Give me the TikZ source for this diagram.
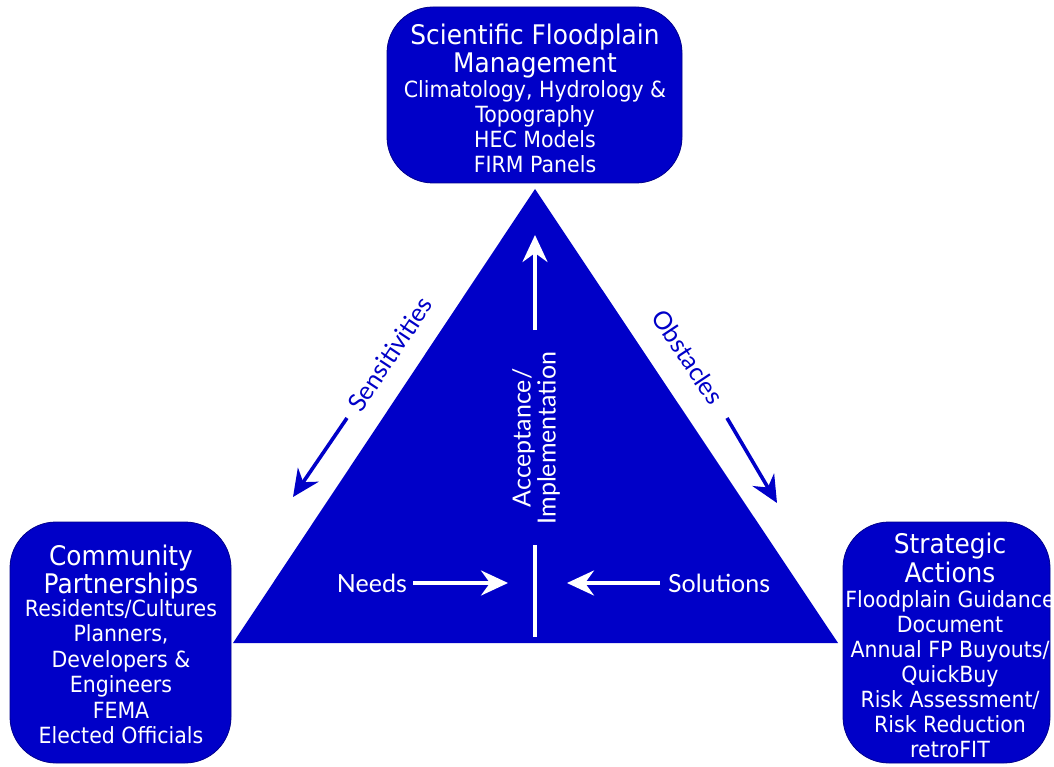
\documentclass[tikz,border=0pt]{standalone}
\usepackage{fontspec}
\setmainfont{DejaVu Sans}[FakeStretch=0.92]
\newfontfamily\trifont{Lato}
\usetikzlibrary{arrows.meta}
\definecolor{fpblue}{RGB}{0,0,200}
\definecolor{fpedge}{RGB}{0,0,140}

% one centred line of box text at a given size
\newcommand\txtrow[2]{\hbox to 0pt{\hss\fontsize{#1}{#1}\selectfont #2\hss}}
\newcommand\titlesize{27}
\newcommand\subsize{22.3}

\begin{document}
\begin{tikzpicture}[x=1pt,y=-1pt,
  infobox/.style={fill=fpblue, draw=fpedge, line width=0.8pt, rounded corners=46pt},
  boxtext/.style={anchor=base, inner sep=0pt, text=white},
  trilabel/.style={inner sep=0pt, font=\trifont\fontsize{25}{25}\selectfont},
  whitearrow/.style={draw=white, line width=3.6pt, -{Stealth[length=27pt,width=25pt,inset=9pt]}},
  bluearrow/.style={draw=fpblue, line width=3.6pt, -{Stealth[length=27pt,width=25pt,inset=9pt]}},
]
\fill[white] (0,0) rectangle (1054,767);
\useasboundingbox (0,0) rectangle (1054,767);

% central triangle
\coordinate (apex) at (535,189);
\coordinate (bl) at (233,643);
\coordinate (br) at (838,643);
\fill[fpblue] (apex) -- (bl) -- (br) -- cycle;

% the three rounded boxes
\draw[infobox] (387,7) rectangle (682,183);
\draw[infobox] (10,522) rectangle (231,763);
\draw[infobox] (843,522) rectangle (1050,763);

\node[boxtext] (sci) at (535,45) {\vtop{\baselineskip=28pt
  \txtrow{\titlesize}{Scientific Floodplain}
  \txtrow{\titlesize}{Management}
  \baselineskip=25pt
  \txtrow{\subsize}{Climatology, Hydrology \&}
  \txtrow{\subsize}{Topography}
  \txtrow{\subsize}{HEC Models}
  \txtrow{\subsize}{FIRM Panels}}};

\node[boxtext] (comm) at (121,565) {\vtop{\baselineskip=28pt
  \txtrow{\titlesize}{Community}
  \txtrow{\titlesize}{Partnerships}
  \baselineskip=23pt
  \txtrow{\subsize}{Residents/Cultures}
  \baselineskip=25.5pt
  \txtrow{\subsize}{Planners,}
  \txtrow{\subsize}{Developers \&}
  \txtrow{\subsize}{Engineers}
  \txtrow{\subsize}{FEMA}
  \txtrow{\subsize}{Elected Officials}}};

\node[boxtext] (strat) at (950,553) {\vtop{\baselineskip=29pt
  \txtrow{\titlesize}{Strategic}
  \txtrow{\titlesize}{Actions}
  \baselineskip=25pt
  \txtrow{\subsize}{Floodplain Guidance}
  \txtrow{\subsize}{Document}
  \txtrow{\subsize}{Annual FP Buyouts/}
  \txtrow{\subsize}{QuickBuy}
  \txtrow{\subsize}{Risk Assessment/}
  \txtrow{\subsize}{Risk Reduction}
  \txtrow{\subsize}{retroFIT}}};

% labels along the sides
\node[trilabel, text=fpblue, rotate=56.4] (sens) at (390,354) {Sensitivities};
\node[trilabel, text=fpblue, rotate=-56.4] (obst) at (688,357) {Obstacles};
\coordinate (sensA) at (347,418);
\coordinate (sensB) at (293,497);
\coordinate (obstA) at (727,418);
\coordinate (obstB) at (777,503);
\draw[bluearrow] (sensA) -- (sensB);
\draw[bluearrow] (obstA) -- (obstB);

% inside the triangle
\node[trilabel, text=white, rotate=90, align=center] (accept) at (536,438) {Acceptance/\\Implementation};
\coordinate (upA) at (535,330);
\coordinate (upB) at (535,235);
\draw[whitearrow] (upA) -- (upB);

\coordinate (barTop) at (535,545);
\coordinate (barBot) at (535,637);
\draw[white, line width=3.6pt] (barTop) -- (barBot);

\node[trilabel, text=white, anchor=east] (needs) at (407,583) {Needs};
\node[trilabel, text=white, anchor=west] (sol) at (668,583) {Solutions};
\coordinate (needsTip) at (508,583);
\coordinate (solTip) at (567,583);
\draw[whitearrow] ([xshift=6pt]needs.east) -- (needsTip);
\draw[whitearrow] ([xshift=-8pt]sol.west) -- (solTip);
\end{tikzpicture}
\end{document}
